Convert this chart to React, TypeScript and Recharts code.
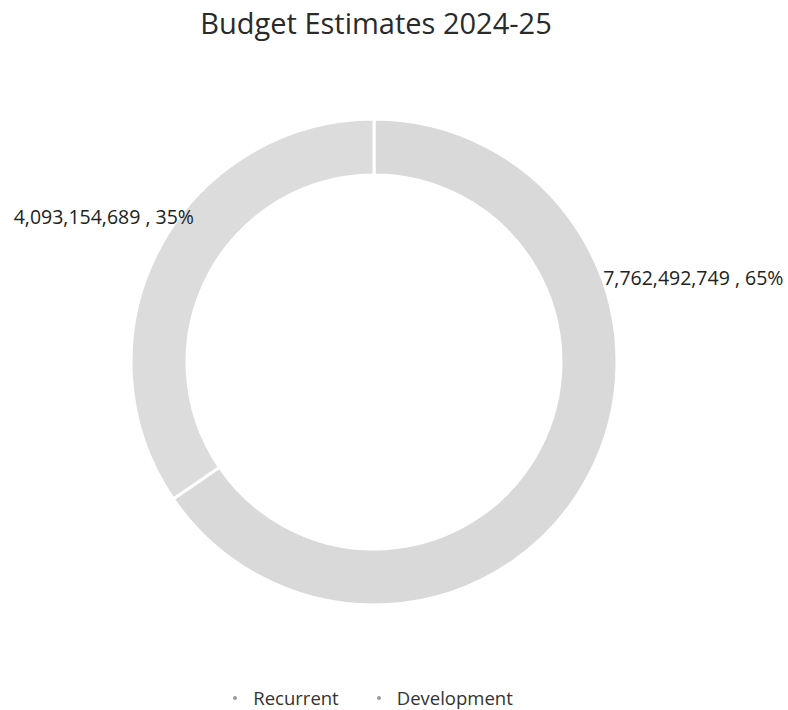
import React from 'react';
import { PieChart, Pie, Cell, Legend } from 'recharts';

const categories = ['Recurrent', 'Development'];
const amounts = [7762492749, 4093154689];
const sliceColors = ['#d9d9d9', '#dcdcdc'];

const data = categories.map((name, i) => ({ name, value: amounts[i] }));

const FONT = '"Open Sans", sans-serif';
const RAD = Math.PI / 180;

// label placement (angle in degrees, radius factor of outer radius, anchor)
const labelPlacement = [
  { angle: 20.2, factor: 1.005, anchor: 'start' },
  { angle: 141.1, factor: 0.952, anchor: 'end' },
];

const renderLabel = (props: any) => {
  const { cx, cy, outerRadius, index, value, percent } = props;
  const p = labelPlacement[index];
  const r = outerRadius * p.factor;
  const x = cx + r * Math.cos(p.angle * RAD);
  const y = cy - r * Math.sin(p.angle * RAD);
  return (
    <text
      x={x}
      y={y}
      textAnchor={p.anchor}
      dominantBaseline="central"
      fontFamily={FONT}
      fontSize={19.5}
      fill="#222"
    >
      {`${Number(value).toLocaleString('en-US')} , ${Math.round(percent * 100)}%`}
    </text>
  );
};

const renderLegend = (props: any) => {
  const payload = [...(props.payload || [])].sort(
    (a: any, b: any) => categories.indexOf(a.value) - categories.indexOf(b.value)
  );
  return (
    <div
      style={{
        display: 'flex',
        justifyContent: 'center',
        alignItems: 'center',
        width: 746,
        fontFamily: FONT,
        fontSize: 18.5,
        color: '#333',
      }}
    >
      {payload.map((entry: any, i: number) => (
        <div
          key={entry.value}
          style={{ display: 'flex', alignItems: 'center', marginLeft: i === 0 ? 0 : 38 }}
        >
          <span
            style={{
              display: 'inline-block',
              width: 4,
              height: 4,
              borderRadius: 2,
              background: '#9a9a9a',
              marginRight: 16,
            }}
          />
          <span>{entry.value}</span>
        </div>
      ))}
    </div>
  );
};

export default function App() {
  return (
    <div style={{ position: 'absolute', left: 0, top: 0, width: 788, height: 710, background: '#fff' }}>
      <div
        style={{
          position: 'absolute',
          left: 0,
          top: 3,
          width: 752,
          textAlign: 'center',
          fontFamily: FONT,
          fontSize: 29,
          lineHeight: '39px',
          color: '#2a2a2a',
        }}
      >
        Budget Estimates 2024-25
      </div>
      <PieChart
        width={788}
        height={710}
        margin={{ top: 0, right: 0, bottom: 0, left: 0 }}
        style={{ position: 'absolute', left: 0, top: 0 }}
      >
        <Pie
          data={data}
          dataKey="value"
          nameKey="name"
          cx={374}
          cy={362}
          outerRadius={243}
          innerRadius={187}
          startAngle={90}
          endAngle={-270}
          stroke="#ffffff"
          strokeWidth={3}
          label={renderLabel}
          labelLine={false}
          isAnimationActive={false}
        >
          {data.map((d, i) => (
            <Cell key={d.name} fill={sliceColors[i]} />
          ))}
        </Pie>
        <Legend
          content={renderLegend}
          wrapperStyle={{ position: 'absolute', left: 0, top: 685, width: 746 }}
        />
      </PieChart>
    </div>
  );
}
